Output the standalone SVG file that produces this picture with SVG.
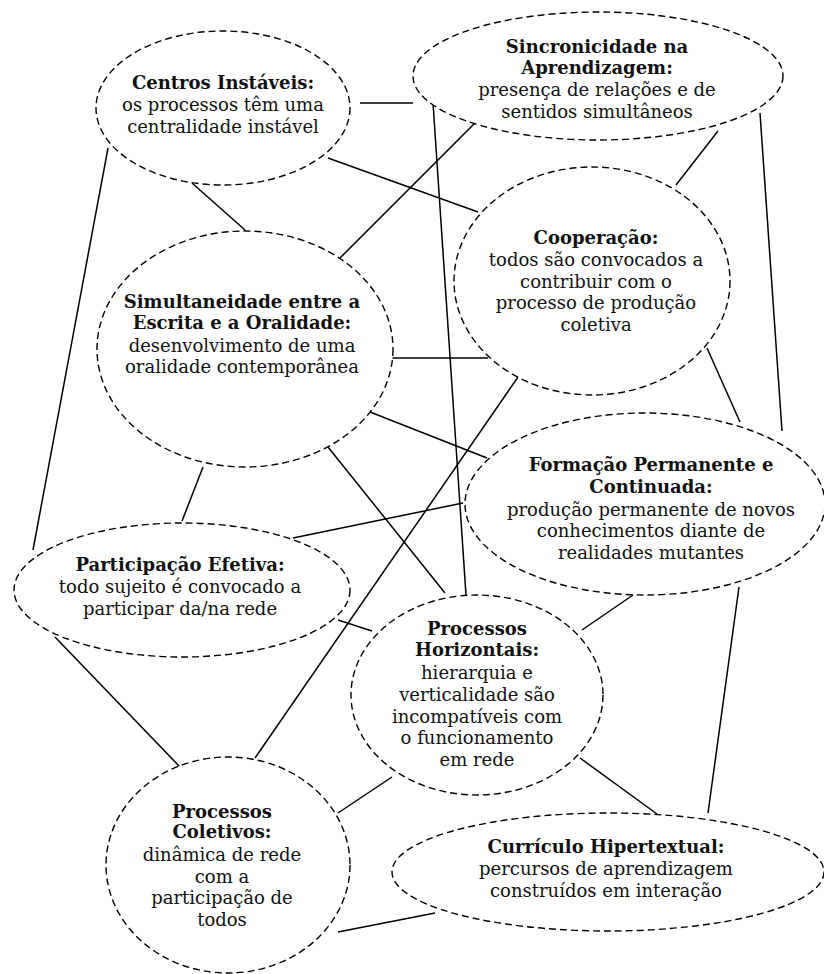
<svg xmlns="http://www.w3.org/2000/svg" width="824" height="974" viewBox="0 0 824 974">
<style>
.n{fill:#fff;stroke:#000;stroke-width:1.4;stroke-dasharray:7 4}
.c line{stroke:#000;stroke-width:1.5}
text{font-family:"DejaVu Serif","Liberation Serif",serif;font-size:18px;text-anchor:middle;fill:#111}
.b{font-weight:bold}
</style>
<rect width="824" height="974" fill="#fff"/>
<g class="c" id="connectors">
<line x1="360" y1="103" x2="413" y2="103"/>
<line x1="192" y1="183" x2="245" y2="230"/>
<line x1="328" y1="158" x2="478" y2="212"/>
<line x1="108" y1="148" x2="33" y2="550"/>
<line x1="475" y1="123" x2="340" y2="258"/>
<line x1="433" y1="103" x2="466" y2="595"/>
<line x1="718" y1="131" x2="676" y2="185"/>
<line x1="760" y1="113" x2="782" y2="431"/>
<line x1="390" y1="358" x2="488" y2="358"/>
<line x1="370" y1="412" x2="487" y2="458"/>
<line x1="328" y1="447" x2="445" y2="593"/>
<line x1="203" y1="467" x2="182" y2="521"/>
<line x1="518" y1="377" x2="255" y2="758"/>
<line x1="707" y1="348" x2="740" y2="422"/>
<line x1="293" y1="538" x2="463" y2="503"/>
<line x1="338" y1="620" x2="372" y2="631"/>
<line x1="55" y1="637" x2="180" y2="767"/>
<line x1="633" y1="595" x2="582" y2="630"/>
<line x1="739" y1="587" x2="708" y2="813"/>
<line x1="392" y1="777" x2="338" y2="813"/>
<line x1="580" y1="758" x2="657" y2="814"/>
<line x1="338" y1="932" x2="435" y2="913"/>
</g>
<g id="centros">
<ellipse class="n" cx="223" cy="108" rx="127" ry="77"/>
<text x="223" y="89" class="b">Centros Instáveis:</text>
<text x="223" y="111">os processos têm uma</text>
<text x="223" y="133">centralidade instável</text>
</g>
<g id="sincronicidade">
<ellipse class="n" cx="598" cy="76" rx="185" ry="64"/>
<text x="597" y="53" class="b">Sincronicidade na</text>
<text x="597" y="74" class="b">Aprendizagem:</text>
<text x="597" y="96">presença de relações e de</text>
<text x="597" y="118">sentidos simultâneos</text>
</g>
<g id="cooperacao">
<ellipse class="n" cx="592" cy="281" rx="138" ry="114"/>
<text x="596" y="244" class="b">Cooperação:</text>
<text x="596" y="266">todos são convocados a</text>
<text x="596" y="288">contribuir com o</text>
<text x="596" y="309">processo de produção</text>
<text x="596" y="331">coletiva</text>
</g>
<g id="simultaneidade">
<ellipse class="n" cx="245" cy="349" rx="148" ry="118"/>
<text x="242" y="308" class="b">Simultaneidade entre a</text>
<text x="242" y="329" class="b">Escrita e a Oralidade:</text>
<text x="242" y="352">desenvolvimento de uma</text>
<text x="242" y="373">oralidade contemporânea</text>
</g>
<g id="formacao">
<ellipse class="n" cx="645" cy="504" rx="180" ry="91"/>
<text x="651" y="471" class="b">Formação Permanente e</text>
<text x="651" y="493" class="b">Continuada:</text>
<text x="651" y="516">produção permanente de novos</text>
<text x="651" y="537">conhecimentos diante de</text>
<text x="651" y="559">realidades mutantes</text>
</g>
<g id="participacao">
<ellipse class="n" cx="182" cy="590" rx="168" ry="67"/>
<text x="180" y="571" class="b">Participação Efetiva:</text>
<text x="180" y="593">todo sujeito é convocado a</text>
<text x="180" y="615">participar da/na rede</text>
</g>
<g id="horizontais">
<ellipse class="n" cx="477" cy="695" rx="126" ry="100"/>
<text x="477" y="635" class="b">Processos</text>
<text x="477" y="656" class="b">Horizontais:</text>
<text x="477" y="679">hierarquia e</text>
<text x="477" y="701">verticalidade são</text>
<text x="477" y="723">incompatíveis com</text>
<text x="477" y="744">o funcionamento</text>
<text x="477" y="766">em rede</text>
</g>
<g id="coletivos">
<ellipse class="n" cx="228" cy="865" rx="122" ry="108"/>
<text x="222" y="818" class="b">Processos</text>
<text x="222" y="838" class="b">Coletivos:</text>
<text x="222" y="861">dinâmica de rede</text>
<text x="222" y="883">com a</text>
<text x="222" y="904">participação de</text>
<text x="222" y="926">todos</text>
</g>
<g id="curriculo">
<ellipse class="n" cx="608" cy="872" rx="216" ry="59"/>
<text x="606" y="853" class="b">Currículo Hipertextual:</text>
<text x="606" y="875">percursos de aprendizagem</text>
<text x="606" y="897">construídos em interação</text>
</g>
</svg>
